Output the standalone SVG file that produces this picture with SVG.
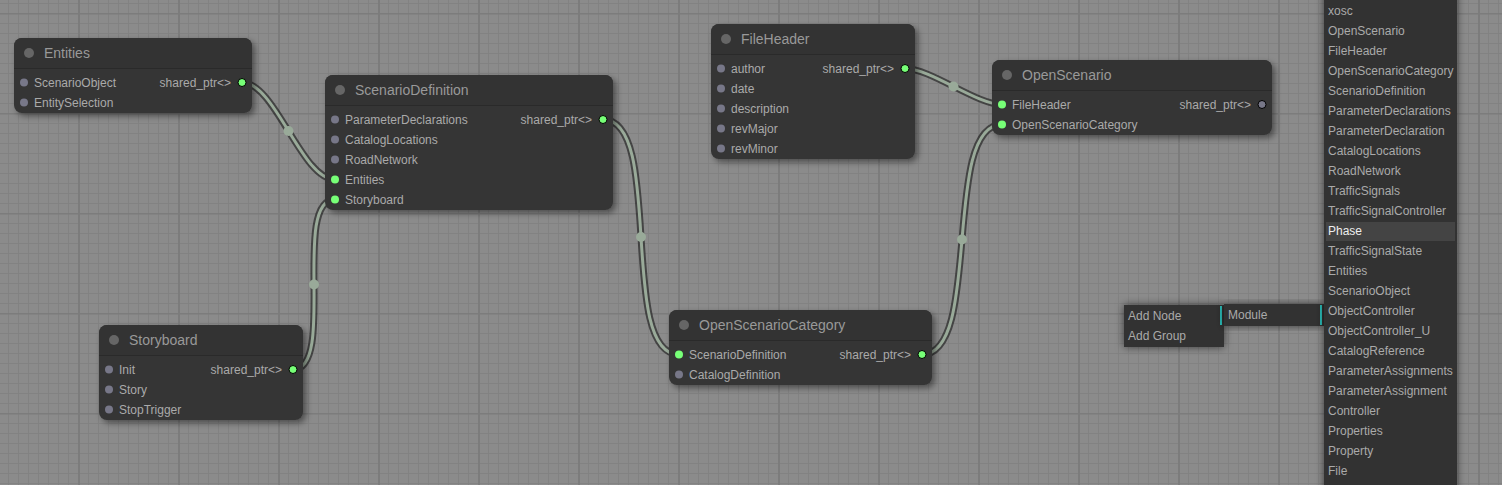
<svg xmlns="http://www.w3.org/2000/svg" width="1502" height="485" viewBox="0 0 1502 485">
<style>
.nb{fill:#353535}
.nt{fill:#333333}
.sep{stroke:#2a2a2a;stroke-width:1}
.tdot{fill:#666666}
.title{font-family:"Liberation Sans",Arial,sans-serif;font-size:14px;fill:#999999}
.slot{font-family:"Liberation Sans",Arial,sans-serif;font-size:12px;fill:#aaaaaa}
.out{text-anchor:end}
.on{fill:#77ff77}
.off{fill:#777788}
.os{stroke:#000000;stroke-width:1}
.lb{fill:none;stroke:rgba(0,0,0,0.5);stroke-width:7}
.li{fill:none;stroke:#99aa99;stroke-width:3}
.lm{fill:#99aa99}
.mb{fill:#313131}
.mt{font-family:"Liberation Sans",Arial,sans-serif;font-size:12px;fill:#aaaaaa}
.sub{fill:#2bbfbb}
</style>
<defs>
<pattern id="grid" x="78" y="13" width="100" height="100" patternUnits="userSpaceOnUse">
<rect width="100" height="100" fill="#8b8b8b"/>
<g fill="#828282">
<rect x="10" y="0" width="1" height="100"/><rect x="20" y="0" width="1" height="100"/><rect x="30" y="0" width="1" height="100"/><rect x="40" y="0" width="1" height="100"/><rect x="50" y="0" width="1" height="100"/><rect x="60" y="0" width="1" height="100"/><rect x="70" y="0" width="1" height="100"/><rect x="80" y="0" width="1" height="100"/><rect x="90" y="0" width="1" height="100"/>
<rect y="10" x="0" height="1" width="100"/><rect y="20" x="0" height="1" width="100"/><rect y="30" x="0" height="1" width="100"/><rect y="40" x="0" height="1" width="100"/><rect y="50" x="0" height="1" width="100"/><rect y="60" x="0" height="1" width="100"/><rect y="70" x="0" height="1" width="100"/><rect y="80" x="0" height="1" width="100"/><rect y="90" x="0" height="1" width="100"/>
</g>
<g fill="#7c7c7c">
<rect x="0" y="0" width="2" height="100"/>
<rect x="0" y="0" width="100" height="1.5"/>
</g>
</pattern>
<filter id="ns" x="-10%" y="-20%" width="130%" height="150%">
<feDropShadow dx="3" dy="3" stdDeviation="3" flood-color="#000" flood-opacity="0.45"/>
</filter>
<filter id="ms" x="-20%" y="-20%" width="140%" height="140%">
<feDropShadow dx="0" dy="0" stdDeviation="4" flood-color="#000" flood-opacity="0.6"/>
</filter>
</defs>
<rect width="1502" height="485" fill="url(#grid)"/>

<g id="connectors">
<path class="lb" d="M242,82.5 C275.6,82.5 301.4,179.5 335,179.5"/>
<path class="li" d="M242,82.5 C275.6,82.5 301.4,179.5 335,179.5"/>
<circle class="lm" cx="288.5" cy="131" r="5"/>
<path class="lb" d="M293,369.5 C336.8,369.5 291.2,199.5 335,199.5"/>
<path class="li" d="M293,369.5 C336.8,369.5 291.2,199.5 335,199.5"/>
<circle class="lm" cx="314" cy="284.5" r="5"/>
<path class="lb" d="M603,119.5 C664.8,119.5 617.2,354.5 679,354.5"/>
<path class="li" d="M603,119.5 C664.8,119.5 617.2,354.5 679,354.5"/>
<circle class="lm" cx="641" cy="237" r="5"/>
<path class="lb" d="M905,68.5 C930.9,68.5 976.1,104.5 1002,104.5"/>
<path class="li" d="M905,68.5 C930.9,68.5 976.1,104.5 1002,104.5"/>
<circle class="lm" cx="953.5" cy="86.5" r="5"/>
<path class="lb" d="M922,354.5 C982.9,354.5 941.1,124.5 1002,124.5"/>
<path class="li" d="M922,354.5 C982.9,354.5 941.1,124.5 1002,124.5"/>
<circle class="lm" cx="962" cy="239.5" r="5"/>
</g>

<g id="node-entities">
<rect class="nb" x="14" y="38" width="238" height="75" rx="8" filter="url(#ns)"/>
<path class="nt" d="M22,38 H244 A8,8 0 0 1 252,46 V68 H14 V46 A8,8 0 0 1 22,38 Z"/>
<line class="sep" x1="14" y1="68.5" x2="252" y2="68.5"/>
<circle class="tdot" cx="29" cy="53" r="5"/>
<text class="title" x="44" y="58">Entities</text>
<circle class="off" cx="24" cy="82.5" r="4"/>
<text class="slot" x="34" y="87">ScenarioObject</text>
<circle class="off" cx="24" cy="102.5" r="4"/>
<text class="slot" x="34" y="107">EntitySelection</text>
<text class="slot out" x="231" y="87">shared_ptr&lt;&gt;</text>
<circle class="on os" cx="242" cy="82.5" r="4"/>
</g>

<g id="node-scenariodefinition">
<rect class="nb" x="325" y="75" width="288" height="135" rx="8" filter="url(#ns)"/>
<path class="nt" d="M333,75 H605 A8,8 0 0 1 613,83 V105 H325 V83 A8,8 0 0 1 333,75 Z"/>
<line class="sep" x1="325" y1="105.5" x2="613" y2="105.5"/>
<circle class="tdot" cx="340" cy="90" r="5"/>
<text class="title" x="355" y="95">ScenarioDefinition</text>
<circle class="off" cx="335" cy="119.5" r="4"/>
<text class="slot" x="345" y="124">ParameterDeclarations</text>
<circle class="off" cx="335" cy="139.5" r="4"/>
<text class="slot" x="345" y="144">CatalogLocations</text>
<circle class="off" cx="335" cy="159.5" r="4"/>
<text class="slot" x="345" y="164">RoadNetwork</text>
<circle class="on" cx="335" cy="179.5" r="4"/>
<text class="slot" x="345" y="184">Entities</text>
<circle class="on" cx="335" cy="199.5" r="4"/>
<text class="slot" x="345" y="204">Storyboard</text>
<text class="slot out" x="592" y="124">shared_ptr&lt;&gt;</text>
<circle class="on os" cx="603" cy="119.5" r="4"/>
</g>

<g id="node-storyboard">
<rect class="nb" x="99" y="325" width="204" height="95" rx="8" filter="url(#ns)"/>
<path class="nt" d="M107,325 H295 A8,8 0 0 1 303,333 V355 H99 V333 A8,8 0 0 1 107,325 Z"/>
<line class="sep" x1="99" y1="355.5" x2="303" y2="355.5"/>
<circle class="tdot" cx="114" cy="340" r="5"/>
<text class="title" x="129" y="345">Storyboard</text>
<circle class="off" cx="109" cy="369.5" r="4"/>
<text class="slot" x="119" y="374">Init</text>
<circle class="off" cx="109" cy="389.5" r="4"/>
<text class="slot" x="119" y="394">Story</text>
<circle class="off" cx="109" cy="409.5" r="4"/>
<text class="slot" x="119" y="414">StopTrigger</text>
<text class="slot out" x="282" y="374">shared_ptr&lt;&gt;</text>
<circle class="on os" cx="293" cy="369.5" r="4"/>
</g>

<g id="node-fileheader">
<rect class="nb" x="711" y="24" width="204" height="135" rx="8" filter="url(#ns)"/>
<path class="nt" d="M719,24 H907 A8,8 0 0 1 915,32 V54 H711 V32 A8,8 0 0 1 719,24 Z"/>
<line class="sep" x1="711" y1="54.5" x2="915" y2="54.5"/>
<circle class="tdot" cx="726" cy="39" r="5"/>
<text class="title" x="741" y="44">FileHeader</text>
<circle class="off" cx="721" cy="68.5" r="4"/>
<text class="slot" x="731" y="73">author</text>
<circle class="off" cx="721" cy="88.5" r="4"/>
<text class="slot" x="731" y="93">date</text>
<circle class="off" cx="721" cy="108.5" r="4"/>
<text class="slot" x="731" y="113">description</text>
<circle class="off" cx="721" cy="128.5" r="4"/>
<text class="slot" x="731" y="133">revMajor</text>
<circle class="off" cx="721" cy="148.5" r="4"/>
<text class="slot" x="731" y="153">revMinor</text>
<text class="slot out" x="894" y="73">shared_ptr&lt;&gt;</text>
<circle class="on os" cx="905" cy="68.5" r="4"/>
</g>

<g id="node-openscenario">
<rect class="nb" x="992" y="60" width="280" height="75" rx="8" filter="url(#ns)"/>
<path class="nt" d="M1000,60 H1264 A8,8 0 0 1 1272,68 V90 H992 V68 A8,8 0 0 1 1000,60 Z"/>
<line class="sep" x1="992" y1="90.5" x2="1272" y2="90.5"/>
<circle class="tdot" cx="1007" cy="75" r="5"/>
<text class="title" x="1022" y="80">OpenScenario</text>
<circle class="on" cx="1002" cy="104.5" r="4"/>
<text class="slot" x="1012" y="109">FileHeader</text>
<circle class="on" cx="1002" cy="124.5" r="4"/>
<text class="slot" x="1012" y="129">OpenScenarioCategory</text>
<text class="slot out" x="1251" y="109">shared_ptr&lt;&gt;</text>
<circle class="off os" cx="1262" cy="104.5" r="4"/>
</g>

<g id="node-openscenariocategory">
<rect class="nb" x="669" y="310" width="263" height="75" rx="8" filter="url(#ns)"/>
<path class="nt" d="M677,310 H924 A8,8 0 0 1 932,318 V340 H669 V318 A8,8 0 0 1 677,310 Z"/>
<line class="sep" x1="669" y1="340.5" x2="932" y2="340.5"/>
<circle class="tdot" cx="684" cy="325" r="5"/>
<text class="title" x="699" y="330">OpenScenarioCategory</text>
<circle class="on" cx="679" cy="354.5" r="4"/>
<text class="slot" x="689" y="359">ScenarioDefinition</text>
<circle class="off" cx="679" cy="374.5" r="4"/>
<text class="slot" x="689" y="379">CatalogDefinition</text>
<text class="slot out" x="911" y="359">shared_ptr&lt;&gt;</text>
<circle class="on os" cx="922" cy="354.5" r="4"/>
</g>

<g id="menu-main">
<rect class="mb" x="1124" y="305" width="100" height="42" filter="url(#ms)"/>
<text class="mt" x="1128" y="319.5">Add Node</text>
<rect class="sub" x="1220" y="306" width="2" height="19"/>
<text class="mt" x="1128" y="339.5">Add Group</text>
</g>

<g id="menu-add-node">
<rect class="mb" x="1224" y="304" width="100" height="22" filter="url(#ms)"/>
<text class="mt" x="1228" y="318.5">Module</text>
<rect class="sub" x="1320" y="305" width="2" height="20"/>
</g>

<g id="menu-module">
<rect class="mb" x="1324" y="-10" width="133" height="505" filter="url(#ms)"/>
<rect x="1326" y="222" width="129" height="19" fill="#444444"/>
<text class="mt" x="1328" y="15">xosc</text>
<text class="mt" x="1328" y="35">OpenScenario</text>
<text class="mt" x="1328" y="55">FileHeader</text>
<text class="mt" x="1328" y="75">OpenScenarioCategory</text>
<text class="mt" x="1328" y="95">ScenarioDefinition</text>
<text class="mt" x="1328" y="115">ParameterDeclarations</text>
<text class="mt" x="1328" y="135">ParameterDeclaration</text>
<text class="mt" x="1328" y="155">CatalogLocations</text>
<text class="mt" x="1328" y="175">RoadNetwork</text>
<text class="mt" x="1328" y="195">TrafficSignals</text>
<text class="mt" x="1328" y="215">TrafficSignalController</text>
<text class="mt" x="1328" y="235" fill="#eeeeee" style="fill:#eeeeee">Phase</text>
<text class="mt" x="1328" y="255">TrafficSignalState</text>
<text class="mt" x="1328" y="275">Entities</text>
<text class="mt" x="1328" y="295">ScenarioObject</text>
<text class="mt" x="1328" y="315">ObjectController</text>
<text class="mt" x="1328" y="335">ObjectController_U</text>
<text class="mt" x="1328" y="355">CatalogReference</text>
<text class="mt" x="1328" y="375">ParameterAssignments</text>
<text class="mt" x="1328" y="395">ParameterAssignment</text>
<text class="mt" x="1328" y="415">Controller</text>
<text class="mt" x="1328" y="435">Properties</text>
<text class="mt" x="1328" y="455">Property</text>
<text class="mt" x="1328" y="475">File</text>
</g>
</svg>
